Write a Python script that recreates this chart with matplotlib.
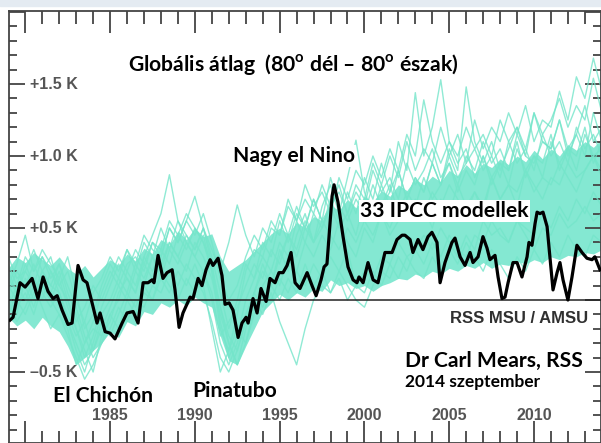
import numpy as np
import matplotlib.pyplot as plt
from matplotlib.ticker import MultipleLocator
from matplotlib.patches import Rectangle

# RSS MSU/AMSU globális anomália (simított)
rss_years = [1979.10, 1979.28, 1979.69, 1979.99, 1980.40, 1980.75, 1981.05, 1981.34, 1981.64, 1981.88,
             1982.17, 1982.52, 1982.76, 1983.11, 1983.41, 1983.64, 1983.94, 1984.23, 1984.41, 1984.71,
             1985.00, 1985.29, 1985.71, 1986.00, 1986.36, 1986.65, 1986.95, 1987.24, 1987.48, 1987.59,
             1987.83, 1988.12, 1988.36, 1988.66, 1988.83, 1989.07, 1989.30, 1989.72, 1989.89, 1990.19,
             1990.42, 1990.66, 1990.90, 1991.07, 1991.37, 1991.60, 1991.78, 1992.02, 1992.25, 1992.55,
             1992.78, 1993.02, 1993.14, 1993.43, 1993.67, 1993.90, 1994.20, 1994.43, 1994.73, 1994.96,
             1995.20, 1995.44, 1995.67, 1995.91, 1996.20, 1996.62, 1996.91, 1997.15, 1997.44, 1997.62,
             1997.79, 1998.09, 1998.21, 1998.44, 1998.74, 1999.03, 1999.33, 1999.56, 1999.68, 1999.92,
             2000.21, 2000.51, 2000.80, 2001.21, 2001.63, 2001.92, 2002.22, 2002.39, 2002.69, 2002.86,
             2003.16, 2003.45, 2003.75, 2003.98, 2004.28, 2004.46, 2004.75, 2005.16, 2005.34, 2005.64,
             2005.93, 2006.23, 2006.40, 2006.70, 2006.99, 2007.23, 2007.40, 2007.70, 2007.88, 2008.11,
             2008.29, 2008.47, 2008.76, 2009.00, 2009.29, 2009.59, 2009.70, 2009.88, 2010.06, 2010.18,
             2010.35, 2010.53, 2010.77, 2010.94, 2011.12, 2011.36, 2011.53, 2011.71, 2012.00, 2012.24,
             2012.53, 2012.83, 2013.12, 2013.42, 2013.59, 2013.89]
rss_anom = [-0.14, -0.12, 0.12, 0.09, 0.15, 0.01, 0.16, 0.06, 0.01, 0.03,
            -0.07, -0.17, -0.16, 0.24, 0.14, 0.12, -0.02, -0.16, -0.09, -0.22,
            -0.23, -0.27, -0.16, -0.09, -0.08, -0.16, 0.12, 0.12, 0.14, 0.12,
            0.31, 0.15, 0.19, 0.21, 0.07, -0.19, -0.09, 0.02, 0.01, 0.15,
            0.10, 0.21, 0.28, 0.24, 0.29, 0.17, -0.03, -0.02, -0.07, -0.26,
            -0.16, -0.12, -0.16, 0.01, -0.09, 0.08, -0.01, 0.15, 0.12, 0.19,
            0.19, 0.24, 0.33, 0.12, 0.08, 0.19, 0.10, 0.03, 0.14, 0.23,
            0.25, 0.72, 0.80, 0.68, 0.44, 0.23, 0.14, 0.12, 0.16, 0.12,
            0.26, 0.14, 0.12, 0.33, 0.33, 0.42, 0.45, 0.45, 0.42, 0.33,
            0.42, 0.35, 0.44, 0.47, 0.40, 0.12, 0.26, 0.40, 0.43, 0.30,
            0.24, 0.33, 0.26, 0.30, 0.44, 0.36, 0.28, 0.31, 0.16, 0.01,
            0.02, 0.12, 0.26, 0.26, 0.16, 0.30, 0.40, 0.38, 0.53, 0.61,
            0.60, 0.61, 0.51, 0.30, 0.07, 0.19, 0.26, 0.14, 0.00, 0.16,
            0.38, 0.33, 0.29, 0.28, 0.30, 0.21]

# a 33 modell sűrű sávja, félévente 1979.0 - 2014.0 (alsó / felső szél)
band_low = [-0.12, -0.18, -0.14, -0.20, -0.12, -0.18, -0.22, -0.32, -0.45, -0.40,
            -0.35, -0.30, -0.22, -0.26, -0.15, -0.18, -0.08, -0.10, -0.02, -0.05,
            0.00, -0.04, 0.02, -0.02, -0.05, -0.25, -0.42, -0.45, -0.32, -0.20,
            -0.08, -0.02, 0.04, 0.00, 0.05, 0.02, 0.08, 0.06, 0.14, 0.10,
            0.12, 0.08, 0.10, 0.06, 0.10, 0.12, 0.15, 0.14, 0.18, 0.16,
            0.20, 0.18, 0.22, 0.20, 0.24, 0.22, 0.26, 0.22, 0.25, 0.24,
            0.27, 0.25, 0.28, 0.26, 0.30, 0.28, 0.31, 0.30, 0.33, 0.32,
            0.35]
band_high = [0.22, 0.30, 0.26, 0.33, 0.28, 0.24, 0.30, 0.22, 0.18, 0.24,
             0.16, 0.22, 0.28, 0.24, 0.32, 0.27, 0.36, 0.32, 0.42, 0.38,
             0.48, 0.42, 0.50, 0.44, 0.46, 0.30, 0.20, 0.24, 0.28, 0.34,
             0.40, 0.46, 0.50, 0.46, 0.54, 0.50, 0.58, 0.55, 0.66, 0.62,
             0.70, 0.64, 0.72, 0.68, 0.76, 0.72, 0.80, 0.76, 0.84, 0.80,
             0.86, 0.82, 0.90, 0.86, 0.94, 0.88, 0.95, 0.92, 0.98, 0.94,
             1.00, 0.96, 1.04, 0.98, 1.05, 1.00, 1.08, 1.04, 1.10, 1.06,
             1.12]

# egyes modellfutások, félévente 1979.0 - 2014.0
model_runs = [
    [0.10, 0.25, 0.45, 0.20, 0.30, 0.15, 0.25, 0.05, -0.10, -0.30, -0.15, 0.05, 0.20, 0.10, 0.25, 0.30, 0.20, 0.40,
     0.35, 0.55, 0.45, 0.60, 0.50, 0.40, 0.20, -0.20, -0.35, -0.10, 0.20, 0.35, 0.30, 0.50, 0.45, 0.65, 0.55, 0.70,
     0.60, 0.80, 0.65, 0.75, 0.60, 0.80, 0.70, 0.95, 0.80, 1.00, 0.85, 1.10, 0.90, 1.05, 0.95, 1.20, 1.00, 1.15,
     0.95, 1.25, 1.05, 1.20, 1.10, 1.30, 1.15, 1.35, 1.10, 1.25, 1.20, 1.45, 1.25, 1.55, 1.40, 1.68, 1.45],
    [0.05, -0.10, 0.15, 0.00, 0.20, 0.10, 0.05, -0.15, -0.35, -0.50, -0.30, -0.10, 0.00, 0.15, 0.05, 0.25, 0.15, 0.30,
     0.20, 0.40, 0.30, 0.45, 0.35, 0.50, 0.25, -0.15, -0.40, -0.25, 0.00, 0.15, 0.30, 0.20, 0.40, 0.30, 0.55, 0.40,
     0.60, 0.50, 0.70, 0.55, 0.75, 0.60, 0.85, 0.70, 0.95, 0.75, 1.10, 0.90, 1.44, 1.00, 1.20, 1.53, 1.10, 0.95,
     1.05, 0.85, 1.00, 0.80, 0.95, 0.90, 1.10, 0.85, 1.00, 0.95, 1.15, 0.90, 1.05, 1.00, 1.20, 0.95, 1.10],
    [0.20, 0.05, 0.10, 0.25, 0.10, 0.00, 0.15, -0.05, -0.20, -0.40, -0.25, -0.05, 0.10, 0.25, 0.15, 0.05, 0.30, 0.45,
     0.60, 0.87, 0.55, 0.40, 0.30, 0.45, 0.20, -0.05, -0.30, -0.45, -0.20, 0.05, 0.25, 0.10, 0.35, 0.20, 0.45, 0.60,
     0.40, 0.65, 0.80, 0.60, 0.85, 1.11, 0.75, 0.60, 0.80, 0.65, 0.90, 0.70, 0.85, 0.75, 0.95, 0.80, 1.05, 0.90,
     1.48, 1.10, 0.95, 1.10, 0.90, 1.05, 1.20, 1.00, 1.30, 1.10, 1.05, 1.25, 1.00, 1.15, 1.35, 1.10, 1.20],
    [-0.10, 0.05, 0.20, 0.10, 0.30, 0.20, 0.10, 0.00, -0.15, -0.05, 0.10, 0.00, 0.15, 0.30, 0.20, 0.35, 0.25, 0.40,
     0.30, 0.50, 0.40, 0.55, 0.72, 0.50, 0.35, 0.20, 0.40, 0.66, 0.45, 0.30, 0.50, 0.40, 0.60, 0.45, 0.65, 0.50,
     0.70, 0.55, 0.85, 0.65, 0.55, 0.70, 0.60, 0.80, 0.65, 0.75, 0.90, 0.70, 0.85, 0.75, 0.95, 0.80, 1.00, 0.85,
     0.95, 1.05, 0.90, 1.00, 0.85, 1.10, 0.95, 1.05, 0.90, 1.15, 1.00, 1.10, 0.95, 1.20, 1.05, 1.15, 1.00],
    [0.00, -0.15, -0.05, 0.10, -0.05, -0.20, -0.10, -0.25, -0.40, -0.55, -0.45, -0.30, -0.20, -0.05, -0.15, 0.00, -0.05, 0.10,
     0.05, 0.20, 0.10, 0.25, 0.15, 0.05, -0.15, -0.40, -0.50, -0.35, -0.15, 0.00, -0.10, 0.05, -0.15, -0.30, -0.45, -0.20,
     0.00, 0.10, 0.05, 0.20, 0.10, 0.00, -0.05, 0.10, 0.20, 0.15, 0.30, 0.20, 0.35, 0.25, 0.40, 0.30, 0.45, 0.35,
     0.30, 0.45, 0.40, 0.55, 0.45, 0.40, 0.55, 0.50, 0.45, 0.60, 0.50, 0.65, 0.55, 0.70, 0.60, 0.75, 0.65],
    [0.15, 0.05, 0.25, 0.10, 0.00, 0.20, 0.05, -0.10, -0.25, -0.15, -0.35, -0.20, -0.05, 0.10, 0.00, 0.20, 0.10, 0.30,
     0.15, 0.35, 0.25, 0.40, 0.30, 0.20, 0.05, -0.25, -0.15, -0.05, 0.10, 0.25, 0.15, 0.35, 0.25, 0.45, 0.30, 0.50,
     0.40, 0.55, 0.45, 0.35, 0.50, 0.40, 0.55, 0.45, 0.60, 0.50, 0.65, 0.55, 0.70, 0.60, 0.75, 0.65, 0.80, 0.70,
     0.60, 0.75, 0.65, 0.85, 0.70, 0.80, 0.75, 0.90, 0.80, 0.70, 0.85, 0.80, 0.95, 0.85, 0.90, 1.00, 0.85],
    [0.25, 0.10, 0.30, 0.20, 0.35, 0.25, 0.15, 0.30, 0.05, -0.20, -0.10, 0.10, 0.25, 0.15, 0.35, 0.20, 0.40, 0.30,
     0.50, 0.35, 0.55, 0.45, 0.35, 0.50, 0.30, 0.05, -0.20, 0.00, 0.25, 0.15, 0.40, 0.30, 0.55, 0.40, 0.60, 0.50,
     0.70, 0.55, 0.65, 0.80, 0.60, 0.75, 0.65, 0.90, 0.75, 0.85, 0.70, 0.95, 0.80, 0.90, 1.05, 0.85, 0.95, 0.80,
     1.00, 0.90, 1.10, 0.95, 1.05, 0.90, 1.15, 1.00, 0.95, 1.10, 1.05, 1.25, 1.05, 1.15, 1.00, 1.30, 1.10],
    [-0.15, -0.05, 0.05, -0.10, 0.10, 0.00, -0.10, -0.20, -0.45, -0.30, -0.20, -0.25, -0.10, -0.20, 0.00, -0.10, 0.05, 0.00,
     0.15, 0.05, 0.20, 0.10, 0.25, 0.10, -0.20, -0.50, -0.35, -0.20, -0.30, -0.05, 0.05, 0.00, 0.15, 0.05, 0.20, 0.10,
     0.25, 0.15, 0.30, 0.20, 0.35, 0.10, 0.20, 0.15, 0.30, 0.25, 0.40, 0.30, 0.35, 0.45, 0.35, 0.50, 0.40, 0.30,
     0.45, 0.35, 0.55, 0.45, 0.50, 0.40, 0.55, 0.45, 0.35, 0.50, 0.45, 0.60, 0.50, 0.55, 0.65, 0.55, 0.60],
    [0.05, 0.20, 0.10, -0.05, 0.15, 0.05, 0.20, 0.00, -0.20, -0.35, -0.50, -0.25, -0.15, 0.05, 0.15, 0.05, 0.25, 0.15,
     0.25, 0.40, 0.30, 0.20, 0.40, 0.30, 0.15, -0.10, -0.30, -0.45, -0.30, -0.10, 0.10, 0.20, 0.10, 0.30, 0.20, 0.40,
     0.30, 0.45, 0.35, 0.55, 0.40, 0.30, 0.50, 0.40, 0.60, 0.45, 0.55, 0.70, 0.55, 0.65, 0.50, 0.70, 0.60, 0.80,
     0.65, 0.75, 0.60, 0.85, 0.70, 0.80, 0.65, 0.90, 0.75, 0.85, 0.80, 0.95, 0.85, 0.75, 0.90, 1.00, 0.90],
    [0.30, 0.15, 0.20, 0.35, 0.20, 0.30, 0.10, 0.20, 0.00, -0.15, 0.05, 0.15, 0.30, 0.20, 0.35, 0.25, 0.45, 0.35,
     0.30, 0.50, 0.40, 0.55, 0.45, 0.60, 0.40, 0.15, 0.00, 0.10, 0.30, 0.45, 0.35, 0.55, 0.45, 0.70, 0.55, 0.80,
     0.65, 0.75, 0.60, 0.85, 0.70, 0.90, 0.80, 1.00, 0.85, 1.05, 0.90, 1.15, 1.00, 1.39, 1.10, 0.95, 1.10, 1.00,
     1.20, 1.05, 1.15, 1.00, 1.25, 1.10, 1.20, 1.05, 1.30, 1.15, 1.25, 1.40, 1.20, 1.35, 1.25, 1.54, 1.30],
    [-0.05, 0.10, 0.00, 0.15, 0.05, -0.05, 0.05, -0.15, -0.30, -0.45, -0.35, -0.15, -0.25, -0.10, 0.05, -0.05, 0.10, 0.00,
     0.20, 0.10, 0.00, 0.15, 0.05, 0.20, 0.00, -0.30, -0.45, -0.30, -0.10, 0.05, -0.05, 0.10, 0.00, 0.15, 0.05, 0.25,
     0.10, 0.20, 0.05, 0.15, 0.00, 0.10, 0.05, 0.20, 0.10, 0.25, 0.15, 0.30, 0.20, 0.15, 0.30, 0.20, 0.35, 0.25,
     0.40, 0.30, 0.20, 0.35, 0.25, 0.15, 0.30, 0.20, 0.35, 0.25, 0.40, 0.30, 0.45, 0.35, 0.30, 0.45, 0.40],
    [0.10, 0.00, -0.10, 0.05, 0.20, 0.10, 0.25, 0.10, -0.05, -0.25, -0.40, -0.30, -0.10, 0.00, 0.20, 0.10, 0.30, 0.20,
     0.35, 0.25, 0.45, 0.35, 0.50, 0.40, 0.25, -0.05, -0.25, -0.35, -0.15, 0.05, 0.20, 0.10, 0.30, 0.45, 0.35, 0.55,
     0.40, 0.50, 0.65, 0.50, 0.60, 0.45, 0.70, 0.55, 0.65, 0.80, 0.60, 0.75, 0.65, 0.85, 0.70, 0.80, 0.95, 0.75,
     0.90, 0.80, 1.00, 0.85, 0.95, 0.80, 1.05, 0.90, 1.00, 0.85, 1.10, 0.95, 1.05, 0.90, 1.15, 1.00, 1.05],
]

year_ticks = [1985, 1990, 1995, 2000, 2005, 2010]
k_ticks = [1.5, 1.0, 0.5, -0.5]
k_labels = ['+1.5 K', '+1.0 K', '+0.5 K', '–0.5 K']

plt.rcParams['mathtext.fontset'] = 'custom'
plt.rcParams['mathtext.rm'] = 'Lato:bold'
plt.rcParams['mathtext.bf'] = 'Lato:bold'

W, H = 601, 443
fig = plt.figure(figsize=(W / 100, H / 100), dpi=100)
fig.patches.append(Rectangle((0, 1 - 6 / H), 1, 6 / H, transform=fig.transFigure,
                             color='#e4ebf2', zorder=0))
ax = fig.add_axes([9 / W, 0, 592 / W, 432 / H])
ax.set_xlim(1979.04, 2013.95)
ax.set_ylim(-0.993, 2.007)

cyan = '#74e5ca'
band_x = np.linspace(1979, 2014, len(band_high))
ax.fill_between(band_x, band_low, band_high, color='#84e8d2', lw=0, zorder=1)
for run in model_runs:
    yrs = np.linspace(1979, 2014, len(run))
    ax.plot(yrs, run, color=cyan, lw=1.0, alpha=0.8, zorder=2)

ax.axhline(0, color='#222222', lw=1.1, zorder=3)
ax.plot(rss_years, rss_anom, color='black', lw=2.3, solid_joinstyle='round', zorder=4)

# tengelyek, befelé álló jelölőkkel
ax.xaxis.set_major_locator(MultipleLocator(5))
ax.xaxis.set_minor_locator(MultipleLocator(1))
ax.yaxis.set_major_locator(MultipleLocator(0.5))
ax.yaxis.set_minor_locator(MultipleLocator(0.1))
ax.tick_params(which='both', direction='in', top=True, bottom=True, left=True, right=True,
               labelbottom=False, labelleft=False, color='#444444', width=1.3)
ax.tick_params(axis='x', which='major', length=16)
ax.tick_params(axis='x', which='minor', length=9)
ax.tick_params(axis='y', which='major', length=11.5)
ax.tick_params(axis='y', which='minor', length=5.8)
for s in ax.spines.values():
    s.set_color('#444444')
    s.set_linewidth(1.3)

lab = dict(fontsize=11.5, fontweight='bold', color='#555555', family='Liberation Sans')
for v, t in zip(k_ticks, k_labels):
    ax.text(0.036, v, t, transform=ax.get_yaxis_transform(), va='center', ha='left', **lab)
for yr in year_ticks:
    ax.text(yr, -0.80, str(yr), ha='center', va='center', **lab)

# feliratok
ann = dict(fontweight='bold', family='Lato', color='black')
fig.text(128 / W, 1 - 71 / H, 'Globális átlag  (80$^{\\mathrm{o}}$ dél – 80$^{\\mathrm{o}}$ észak)',
         fontsize=15.2, ha='left', va='baseline', **ann)
fig.text(233 / W, 1 - 162 / H, 'Nagy el Nino', fontsize=15.2, ha='left', va='baseline',
         bbox=dict(facecolor='white', edgecolor='none', pad=1), **ann)
fig.text(360 / W, 1 - 217 / H, '33 IPCC modellek', fontsize=15.2, ha='left', va='baseline',
         bbox=dict(facecolor='white', edgecolor='none', pad=1), zorder=6, **ann)
fig.text(588 / W, 1 - 323 / H, 'RSS MSU / AMSU', fontsize=12, fontweight='bold',
         family='Liberation Sans', color='#303030', ha='right', va='baseline')
fig.text(405 / W, 1 - 367 / H, 'Dr Carl Mears, RSS', fontsize=15.2, ha='left', va='baseline', **ann)
fig.text(405 / W, 1 - 387 / H, '2014 szeptember', fontsize=12.5, ha='left', va='baseline', **ann)
fig.text(53 / W, 1 - 402 / H, 'El Chichón', fontsize=15.2, ha='left', va='baseline', **ann)
fig.text(192 / W, 1 - 397 / H, 'Pinatubo', fontsize=15.2, ha='left', va='baseline', **ann)

fig.savefig('out.png', dpi=100)
